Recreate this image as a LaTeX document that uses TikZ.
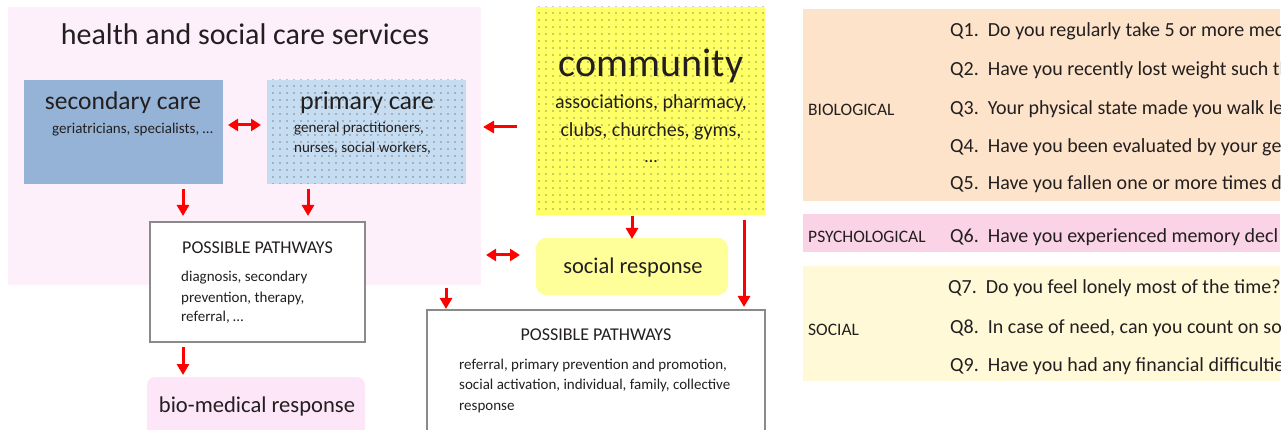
\documentclass[tikz,border=0pt]{standalone}
\usepackage{fontspec}
\setmainfont{Carlito}
\usetikzlibrary{patterns.meta,arrows.meta}
\definecolor{bgpink}{HTML}{FDF0FB}
\definecolor{secblue}{HTML}{95B3D7}
\definecolor{priblue}{HTML}{C6DCF0}
\definecolor{comyel}{HTML}{FFFF66}
\definecolor{socyel}{HTML}{FFFF99}
\definecolor{biopink}{HTML}{FCE6F8}
\definecolor{peach}{HTML}{FDE3C9}
\definecolor{psypink}{HTML}{FAD3E6}
\definecolor{socband}{HTML}{FFF9D7}
\definecolor{boxgray}{HTML}{8A8A8A}
\definecolor{txt}{HTML}{231F20}
\tikzset{
  arr/.style={draw=red, line width=3pt, -{Triangle[length=11pt,width=12pt]}},
  darr/.style={draw=red, line width=3pt, {Triangle[length=10pt,width=12pt]}-{Triangle[length=10pt,width=12pt]}},
  dotted fill/.style={postaction={pattern={Dots[distance=6.5pt,radius=0.65pt]}, pattern color=black!85}},
  pathbox/.style={draw=boxgray, line width=1.5pt, fill=white},
  lbl/.style={inner sep=0pt, text=txt},
}
\begin{document}
\begin{tikzpicture}[x=1pt,y=-1pt]
\useasboundingbox (0,0) rectangle (1285,430);
\clip (0,0) rectangle (1285,430);
% background region
\path[fill=bgpink] (8,7) rectangle (481,285);
\node[lbl, anchor=base, font=\fontsize{30}{30}\selectfont] (title) at (245,45) {health and social care services};
% secondary care
\path[fill=secblue] (24,80) rectangle (223,184);
\node[lbl, anchor=base, font=\fontsize{25.5}{25.5}\selectfont] (secT) at (123,110) {secondary care};
\node[lbl, anchor=base west, font=\fontsize{15}{15}\selectfont] (secS) at (52,134) {geriatricians, specialists, \ldots};
% primary care
\path[fill=priblue, dotted fill] (267,80) rectangle (466,184);
\node[lbl, anchor=base, font=\fontsize{26}{26}\selectfont] (priT) at (367,110) {primary care};
\node[lbl, anchor=base west, font=\fontsize{15}{15}\selectfont] (priS1) at (294,133) {general practitioners,};
\node[lbl, anchor=base west, font=\fontsize{15}{15}\selectfont] (priS2) at (294,153) {nurses, social workers,};
% community
\path[fill=comyel, dotted fill] (536,7) rectangle (765,215);
\node[lbl, anchor=base, font=\fontsize{40}{40}\selectfont] (comT) at (651,77) {community};
\node[lbl, anchor=base, font=\fontsize{20}{20}\selectfont] (comS1) at (651,109) {associations, pharmacy,};
\node[lbl, anchor=base, font=\fontsize{20}{20}\selectfont] (comS2) at (651,137) {clubs, churches, gyms,};
\node[lbl, anchor=base, font=\fontsize{18}{18}\selectfont] (comS3) at (651,163) {\ldots};
% pathways 1
\path[pathbox] (150,222) rectangle (365,342);
\node[lbl, anchor=base west, font=\fontsize{18}{18}\selectfont] (pp1T) at (182,254) {POSSIBLE PATHWAYS};
\node[lbl, anchor=base west, font=\fontsize{15}{15}\selectfont] (pp1a) at (181,282) {diagnosis, secondary};
\node[lbl, anchor=base west, font=\fontsize{15}{15}\selectfont] (pp1b) at (181,302) {prevention, therapy,};
\node[lbl, anchor=base west, font=\fontsize{15}{15}\selectfont] (pp1c) at (181,322) {referral, \ldots};
% bio-medical response
\path[fill=biopink, rounded corners=8pt] (147,377) rectangle (365,440);
\node[lbl, anchor=base, font=\fontsize{22.6}{22.6}\selectfont] (bio) at (257,412) {bio-medical response};
% social response
\path[fill=socyel, rounded corners=10pt] (536,238) rectangle (728,295);
\node[lbl, anchor=base, font=\fontsize{22.5}{22.5}\selectfont] (soc) at (633,274) {social response};
% pathways 2
\path[pathbox] (427,310) rectangle (765,445);
\node[lbl, anchor=base, font=\fontsize{18}{18}\selectfont] (pp2T) at (596,341) {POSSIBLE PATHWAYS};
\node[lbl, anchor=base west, font=\fontsize{15}{15}\selectfont] (pp2a) at (459,369) {referral, primary prevention and promotion,};
\node[lbl, anchor=base west, font=\fontsize{15}{15}\selectfont] (pp2b) at (459,389) {social activation, individual, family, collective};
\node[lbl, anchor=base west, font=\fontsize{15}{15}\selectfont] (pp2c) at (459,410) {response};
% arrow coordinates
\coordinate (a1s) at (228,125); \coordinate (a1e) at (261,125);
\coordinate (a2s) at (517,127); \coordinate (a2e) at (483,127);
\coordinate (a3s) at (183,189); \coordinate (a3e) at (183,216);
\coordinate (a4s) at (308,189); \coordinate (a4e) at (308,216);
\coordinate (a5s) at (183,347); \coordinate (a5e) at (183,375);
\coordinate (a6s) at (632,216); \coordinate (a6e) at (632,239);
\coordinate (a7s) at (486,255); \coordinate (a7e) at (520,255);
\coordinate (a8s) at (744,220); \coordinate (a8e) at (744,307);
\coordinate (a9s) at (446,288); \coordinate (a9e) at (446,309);
\draw[darr] (a1s) -- (a1e);
\draw[arr] (a2s) -- (a2e);
\draw[arr] (a3s) -- (a3e);
\draw[arr] (a4s) -- (a4e);
\draw[arr] (a5s) -- (a5e);
\draw[arr] (a6s) -- (a6e);
\draw[darr] (a7s) -- (a7e);
\draw[arr] (a8s) -- (a8e);
\draw[arr] (a9s) -- (a9e);
% right table
\path[fill=peach] (803,9) rectangle (1280,201);
\path[fill=psypink] (803,214) rectangle (1280,252);
\path[fill=socband] (803,266) rectangle (1280,381);
\begin{scope}
\clip (803,0) rectangle (1280,430);
\tikzset{qt/.style={lbl, anchor=base west, font=\fontsize{20}{20}\selectfont}}
\node[lbl, anchor=base west, font=\fontsize{17.5}{17.5}\selectfont] (bioL) at (808,116) {BIOLOGICAL};
\node[lbl, anchor=base west, font=\fontsize{17.5}{17.5}\selectfont] (psyL) at (808,243) {PSYCHOLOGICAL};
\node[lbl, anchor=base west, font=\fontsize{17.5}{17.5}\selectfont] (socL) at (808,335) {SOCIAL};
\node[qt] (q1) at (950,37) {Q1.\ \ Do you regularly take 5 or more med};
\node[qt] (q2) at (950,76) {Q2.\ \ Have you recently lost weight such th};
\node[qt] (q3) at (950,115) {Q3.\ \ Your physical state made you walk le};
\node[qt] (q4) at (950,153) {Q4.\ \ Have you been evaluated by your ge};
\node[qt] (q5) at (950,190) {Q5.\ \ Have you fallen one or more times d};
\node[qt] (q6) at (950,243) {Q6.\ \ Have you experienced memory decl};
\node[qt] (q7) at (948,294) {Q7.\ \ Do you feel lonely most of the time?};
\node[qt] (q8) at (950,334) {Q8.\ \ In case of need, can you count on so};
\node[qt] (q9) at (950,371) {Q9.\ \ Have you had any financial difficultie};
\end{scope}
\end{tikzpicture}
\end{document}
